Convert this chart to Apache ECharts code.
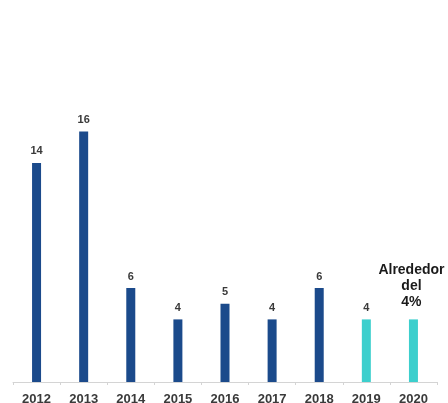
<!DOCTYPE html>
<html>
<head>
<meta charset="utf-8">
<script src="https://cdn.jsdelivr.net/npm/echarts@6/dist/echarts.min.js"></script>
<style>
  html, body { margin: 0; padding: 0; background: #ffffff; }
  #chart { width: 448px; height: 403px; }
</style>
</head>
<body>
<div id="chart"></div>
<script>
// Annual values (%), 2012-2018 observed, 2019-2020 projected
const years = ['2012', '2013', '2014', '2015', '2016', '2017', '2018', '2019', '2020'];
const values = [14, 16, 6, 4, 5, 4, 6, 4, 4];
const projected = [false, false, false, false, false, false, false, true, true];
const valueLabels = ['14', '16', '6', '4', '5', '4', '6', '4', 'Alrededor\ndel\n4%'];

const darkBlue = '#1b4a8b';
const teal = '#3ccfcd';

const barData = values.map((v, i) => {
  const item = {
    value: v,
    itemStyle: { color: projected[i] ? teal : darkBlue }
  };
  if (i === values.length - 1) {
    item.label = {
      fontSize: 14,
      fontWeight: 'bold',
      color: '#1a1a1a',
      lineHeight: 16,
      distance: 9,
      offset: [-2, 0]
    };
  }
  return item;
});

const chart = echarts.init(document.getElementById('chart'), null, { renderer: 'canvas' });
chart.setOption({
  animation: false,
  grid: { left: 13, right: 11, top: 69, bottom: 21, outerBoundsMode: 'none', containLabel: false },
  xAxis: {
    type: 'category',
    data: years,
    axisLine: { lineStyle: { color: '#d4d4d4', width: 1 } },
    axisTick: { show: true, length: 3, lineStyle: { color: '#d4d4d4' } },
    axisLabel: {
      color: '#3a3a3a',
      fontFamily: 'Liberation Sans, Arial, sans-serif',
      fontSize: 13,
      fontWeight: 'bold',
      margin: 11
    }
  },
  yAxis: {
    type: 'value',
    min: 0,
    max: 20,
    show: false,
    splitLine: { show: false }
  },
  series: [{
    type: 'bar',
    data: barData,
    barWidth: 9,
    label: {
      show: true,
      position: 'top',
      distance: 6,
      color: '#3a3a3a',
      fontFamily: 'Liberation Sans, Arial, sans-serif',
      fontSize: 11,
      fontWeight: 'bold',
      formatter: p => valueLabels[p.dataIndex]
    }
  }]
});
</script>
</body>
</html>
